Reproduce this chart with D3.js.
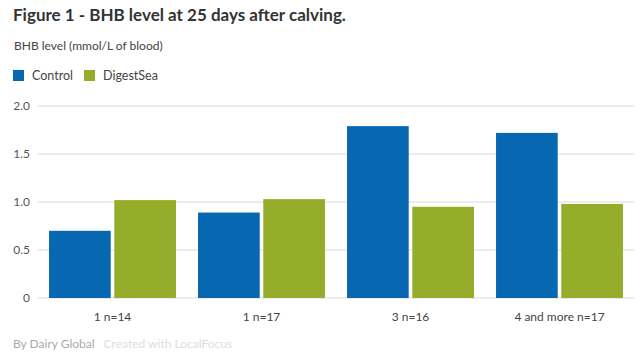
<!DOCTYPE html>
<html><head><meta charset="utf-8">
<script src="https://cdn.jsdelivr.net/npm/d3@7"></script>
<style>body{margin:0;background:#fff;} svg{display:block;font-family:Lato,"Noto Sans",sans-serif;}</style>
</head><body>
<svg id="c" width="640" height="358"></svg>
<script>
const categories = ["1 n=14", "1 n=17", "3 n=16", "4 and more n=17"];
const seriesNames = ["Control", "DigestSea"];
const controlValues = [0.70, 0.89, 1.79, 1.72];
const digestSeaValues = [1.02, 1.03, 0.95, 0.98];
const yTicks = [0, 0.5, 1.0, 1.5, 2.0];
const yTickLabels = ["0", "0.5", "1.0", "1.5", "2.0"];
const colors = ["#0767b1", "#95ad2a"];

const svg = d3.select("#c");
const data = categories.map((c, i) => ({cat: c, vals: [controlValues[i], digestSeaValues[i]]}));

const x0 = d3.scaleBand().domain(categories).range([38, 634]).paddingInner(0.148).paddingOuter(0.074);
const x1 = d3.scaleBand().domain(seriesNames).range([0, x0.bandwidth()]).paddingInner(0.055);
const y = d3.scaleLinear().domain([0, 2]).range([298, 106]);

svg.append("text").attr("x", 13).attr("y", 21).attr("font-size", 17).attr("font-weight", "bold").attr("fill", "#333")
  .text("Figure 1 - BHB level at 25 days after calving.");
svg.append("text").attr("x", 14).attr("y", 50).attr("font-size", 12).attr("fill", "#444")
  .text("BHB level (mmol/L of blood)");

const leg = svg.append("g");
let lx = 13;
seriesNames.forEach((s, i) => {
  leg.append("rect").attr("x", lx).attr("y", 70).attr("width", 11).attr("height", 11).attr("fill", colors[i]);
  const t = leg.append("text").attr("x", lx + 19).attr("y", 80).attr("font-size", 12.5).attr("fill", "#444").text(s);
  lx += 19 + t.node().getComputedTextLength() + 11;
});

// grid
const grid = svg.append("g");
yTicks.forEach((v, i) => {
  grid.append("line").attr("x1", 38).attr("x2", 634).attr("y1", y(v)).attr("y2", y(v))
    .attr("stroke", "#d9d9d9").attr("stroke-width", 1.2);
  grid.append("text").attr("x", 30).attr("y", y(v) + 4).attr("text-anchor", "end").attr("font-size", 12)
    .attr("fill", "#555").text(yTickLabels[i]);
});

const groups = svg.append("g").selectAll("g").data(data).join("g")
  .attr("transform", d => `translate(${x0(d.cat)},0)`);
groups.selectAll("rect").data(d => d.vals.map((v, i) => ({v, s: seriesNames[i], i}))).join("rect")
  .attr("x", d => x1(d.s)).attr("width", x1.bandwidth())
  .attr("y", d => y(d.v)).attr("height", d => y(0) - y(d.v))
  .attr("fill", d => colors[d.i]);

const xa = svg.append("g").attr("transform", "translate(0,298)")
  .call(d3.axisBottom(x0).tickSize(0).tickPadding(14));
xa.select(".domain").remove();
xa.selectAll("text").attr("font-size", 12).attr("fill", "#444").attr("font-family", "Lato,'Noto Sans',sans-serif");

const f1 = svg.append("text").attr("x", 13).attr("y", 348).attr("font-size", 12).attr("fill", "#aaa").text("By Dairy Global");
const fx = 13 + f1.node().getComputedTextLength() + 9;
svg.append("text").attr("x", fx).attr("y", 348).attr("font-size", 12).attr("fill", "#ddd").text("Created with LocalFocus");
</script>
</body></html>
